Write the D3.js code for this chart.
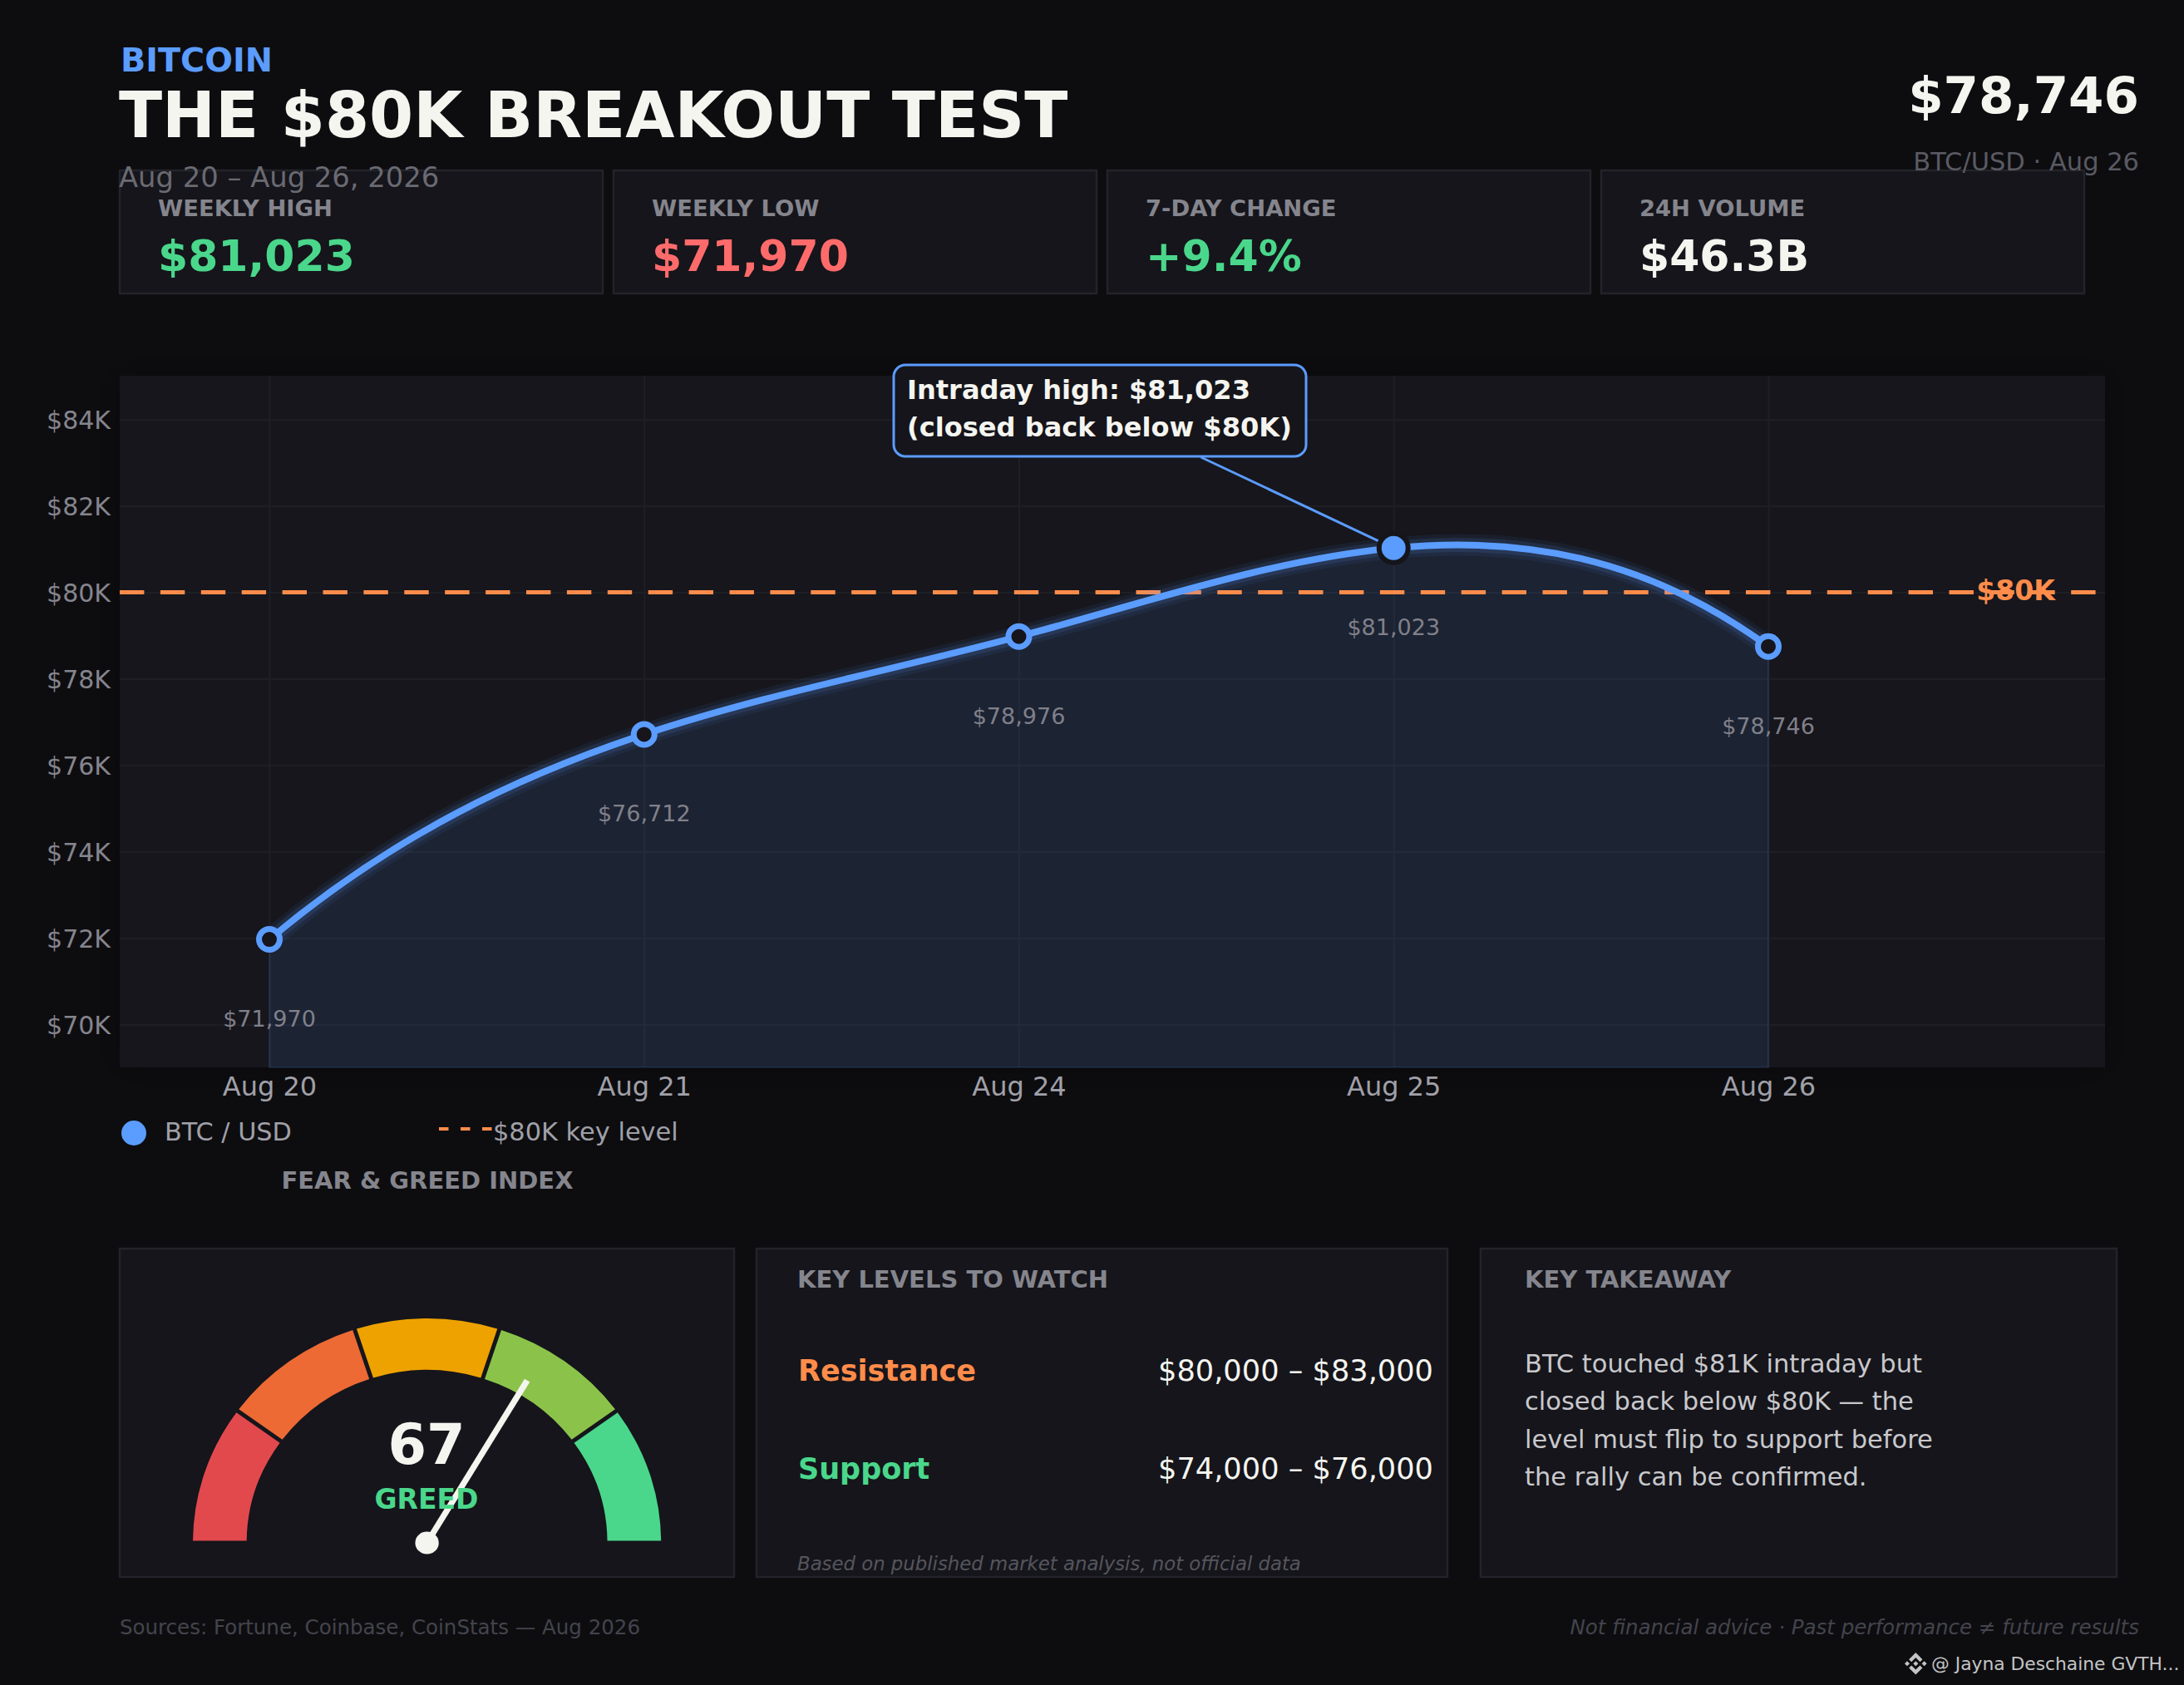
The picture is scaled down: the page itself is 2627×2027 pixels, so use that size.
<!DOCTYPE html>
<html>
<head>
<meta charset="utf-8">
<script src="https://cdn.jsdelivr.net/npm/d3@7/dist/d3.min.js"></script>
<style>
html,body{margin:0;padding:0;background:#0d0d10;}
svg{display:block;}
text{font-family:"DejaVu Sans",sans-serif;}
</style>
</head>
<body>
<script>
// ---- data ----
const days = ["Aug 20","Aug 21","Aug 24","Aug 25","Aug 26"];
const closes = [71970,76712,78976,81023,78746];
const yTicks = [70000,72000,74000,76000,78000,80000,82000,84000];
const keyLevel = 80000;
const peakIndex = 3;
const statLabels = ["WEEKLY HIGH","WEEKLY LOW","7-DAY CHANGE","24H VOLUME"];
const statValues = ["$81,023","$71,970","+9.4%","$46.3B"];
const statColors = ["#4ad78b","#ff6b6b","#4ad78b","#f5f5f0"];
const gaugeSegments = [1,1,1,1,1];
const gaugeColors = ["#e2494d","#ed6a35","#eea200","#8bc34a","#4ad78b"];
const gaugeValue = 67;
const gaugeMax = 100;
const levelNames = ["Resistance","Support"];
const levelRanges = ["$80,000 – $83,000","$74,000 – $76,000"];
const levelColors = ["#ff8c4a","#4ad78b"];
const takeaway = ["BTC touched $81K intraday but","closed back below $80K — the","level must flip to support before","the rally can be confirmed."];
const calloutLines = ["Intraday high: $81,023","(closed back below $80K)"];

// ---- palette ----
const BLUE="#5b9cff", ORANGE="#ff8c4a", PANEL="#15151b", EDGE="#23232a", INK="#f5f5f0", GREY="#85858d";

// d3 curve: cubic spline with not-a-knot ends on evenly spaced x
function NotAKnot(context){this._context=context;}
NotAKnot.prototype={
  areaStart(){this._line=0;},
  areaEnd(){this._line=NaN;},
  lineStart(){this._x=[];this._y=[];},
  point(x,y){this._x.push(+x);this._y.push(+y);},
  lineEnd(){
    const X=this._x,Y=this._y,n=X.length,c=this._context;
    if(this._line) c.lineTo(X[0],Y[0]); else c.moveTo(X[0],Y[0]);
    const h=(X[n-1]-X[0])/(n-1);
    const d=d3.range(n-1).map(i=>(Y[i+1]-Y[i])/h);
    const A=d3.range(n).map(()=>new Array(n+1).fill(0));
    A[0][0]=1;A[0][2]=-1;A[0][n]=2*(d[0]-d[1]);
    for(let i=1;i<n-1;i++){A[i][i-1]=1;A[i][i]=4;A[i][i+1]=1;A[i][n]=3*(d[i-1]+d[i]);}
    A[n-1][n-3]=1;A[n-1][n-1]=-1;A[n-1][n]=2*(d[n-3]-d[n-2]);
    for(let k=0;k<n;k++){
      let p=k;for(let r=k+1;r<n;r++)if(Math.abs(A[r][k])>Math.abs(A[p][k]))p=r;
      [A[k],A[p]]=[A[p],A[k]];
      for(let r=0;r<n;r++){if(r===k)continue;const f=A[r][k]/A[k][k];for(let j=k;j<=n;j++)A[r][j]-=f*A[k][j];}
    }
    const m=d3.range(n).map(i=>A[i][n]/A[i][i]);
    for(let i=0;i<n-1;i++){
      c.bezierCurveTo(X[i]+h/3,Y[i]+m[i]*h/3,X[i+1]-h/3,Y[i+1]-m[i+1]*h/3,X[i+1],Y[i+1]);
    }
    if(this._line) c.closePath();
    this._line=1-this._line;
  }
};
const curveSpline=ctx=>new NotAKnot(ctx);

const W=2627,H=2027;
const svg=d3.select("body").append("svg").attr("width",W).attr("height",H).attr("viewBox",`0 0 ${W} ${H}`);
svg.append("rect").attr("width",W).attr("height",H).attr("fill","#0d0d10");

const defs=svg.append("defs");
const sh=defs.append("filter").attr("id","sh").attr("x","-10%").attr("y","-10%").attr("width","120%").attr("height","120%");
sh.append("feDropShadow").attr("dx",0).attr("dy",0).attr("stdDeviation",22).attr("flood-color","#000").attr("flood-opacity",0.3);

function txt(g,s,x,y,size,fill,o={}){
  return g.append("text").attr("x",x).attr("y",y).attr("font-size",size).attr("fill",fill)
    .attr("font-weight",o.w||400).attr("font-style",o.i||"normal").attr("text-anchor",o.a||"start")
    .attr("font-family",o.f||null).text(s);
}
function panel(x,y,w,h){
  svg.append("rect").attr("x",x).attr("y",y).attr("width",w).attr("height",h).attr("fill",PANEL).attr("stroke",EDGE).attr("stroke-width",2.5);
}

// ---- stat cards ----
const cardX=d3.scaleLinear().domain([0,1]).range([144,738]);
statLabels.forEach((l,i)=>{
  const x=cardX(i);
  panel(x,205,581,148);
  txt(svg,l,x+46,260,27.4,GREY,{w:700});
  txt(svg,statValues[i],x+46,326,52,statColors[i],{w:700});
});

// ---- header ----
txt(svg,"BITCOIN",145,86,39.7,BLUE,{w:700});
txt(svg,"THE $80K BREAKOUT TEST",143,165,76.4,INK,{w:700});
txt(svg,"Aug 20 – Aug 26, 2026",143,225,33.8,"#6a6a72");
txt(svg,"$78,746",2573,136,61,INK,{w:700,a:"end"});
txt(svg,"BTC/USD · Aug 26",2573,205,30.5,"#5a5a62",{a:"end"});

// ---- chart ----
const plot={l:144,r:2532,t:452,b:1284};
const x=d3.scaleLinear().domain([0,days.length-1]).range([324,2127]);
const y=d3.scaleLinear().domain([69000,85000]).range([plot.b+0.5,plot.t+0.5]);
svg.append("rect").attr("x",plot.l).attr("y",plot.t).attr("width",plot.r-plot.l).attr("height",plot.b-plot.t)
  .attr("fill",PANEL).attr("filter","url(#sh)");

const kFmt=d=>"$"+(d/1000)+"K";
const yAxis=svg.append("g").attr("transform",`translate(${plot.l},0)`)
  .call(d3.axisLeft(y).tickValues(yTicks).tickFormat(kFmt).tickSize(-(plot.r-plot.l)).tickPadding(11));
const xIdx=days.map((d,i)=>i);
const xAxis=svg.append("g").attr("transform",`translate(0,${plot.b})`)
  .call(d3.axisBottom(x).tickValues(xIdx).tickFormat(i=>days[i]).tickSize(-(plot.b-plot.t)).tickPadding(12));
[yAxis,xAxis].forEach(a=>{
  a.select(".domain").remove();
  a.selectAll("line").attr("stroke","#1e1e25").attr("stroke-width",2);
  a.selectAll("text").attr("font-family","DejaVu Sans").attr("font-size",30);
});
yAxis.selectAll("text").attr("fill",GREY).attr("transform","translate(0,1)");
xAxis.selectAll("text").attr("fill","#a0a0a8").attr("font-size",32).attr("dy",0).attr("y",null).attr("transform","translate(0,34)");

const pts=closes.map((v,i)=>({i,v}));
const area=d3.area().x(d=>x(d.i)).y0(plot.b).y1(d=>y(d.v)).curve(curveSpline);
const line=d3.line().x(d=>x(d.i)).y(d=>y(d.v)).curve(curveSpline);
svg.append("path").attr("d",area(pts)).attr("fill",BLUE).attr("fill-opacity",0.1).attr("stroke",BLUE).attr("stroke-opacity",0.12).attr("stroke-width",2);

// 80K key level
svg.append("line").attr("x1",plot.l).attr("x2",plot.r).attr("y1",y(keyLevel)).attr("y2",y(keyLevel))
  .attr("stroke",ORANGE).attr("stroke-width",5).attr("stroke-dasharray","29.4 19.5");
txt(svg,"$80K",2424.5,722,33,ORANGE,{w:700,a:"middle"});

// line
svg.append("path").attr("d",line(pts)).attr("fill","none").attr("stroke",BLUE).attr("stroke-opacity",0.07).attr("stroke-width",26);
svg.append("path").attr("d",line(pts)).attr("fill","none").attr("stroke",BLUE).attr("stroke-opacity",0.12).attr("stroke-width",17);
svg.append("path").attr("d",line(pts)).attr("fill","none").attr("stroke",BLUE).attr("stroke-width",8);

// callout leader & box
svg.append("line").attr("x1",1444.5).attr("y1",550).attr("x2",x(peakIndex)).attr("y2",y(closes[peakIndex]))
  .attr("stroke",BLUE).attr("stroke-width",3);
svg.append("rect").attr("x",1075).attr("y",439).attr("width",496).attr("height",110).attr("rx",14)
  .attr("fill",PANEL).attr("stroke",BLUE).attr("stroke-width",3);
calloutLines.forEach((l,i)=>txt(svg,l,1091,480+i*45,32.1,INK,{w:700}));

// markers
svg.selectAll("circle.pt").data(pts).join("circle").attr("class","pt")
  .attr("cx",d=>x(d.i)).attr("cy",d=>y(d.v))
  .attr("r",d=>d.i===peakIndex?17.5:12.5)
  .attr("fill",d=>d.i===peakIndex?BLUE:PANEL)
  .attr("stroke",d=>d.i===peakIndex?PANEL:BLUE)
  .attr("stroke-width",d=>d.i===peakIndex?6:7);
pts.forEach(d=>txt(svg,"$"+d3.format(",")(d.v),x(d.i),y(d.v)+105,27,"#80808a",{a:"middle"}));

// legend
svg.append("circle").attr("cx",161).attr("cy",1363).attr("r",15).attr("fill",BLUE);
txt(svg,"BTC / USD",198,1372,30.3,"#a0a0a8");
svg.append("line").attr("x1",528).attr("x2",592).attr("y1",1358).attr("y2",1358).attr("stroke",ORANGE).attr("stroke-width",4).attr("stroke-dasharray","11.5 14.5");
txt(svg,"$80K key level",593,1372,30.4,"#a0a0a8");
txt(svg,"FEAR & GREED INDEX",514,1430,29,GREY,{w:700,a:"middle"});

// ---- bottom panels ----
panel(144,1502,739,395);
panel(910,1502,831,395);
panel(1781,1502,765,395);

// gauge
const G=svg.append("g").attr("transform","translate(513.6,1856) scale(1.043,1)");
const pie=d3.pie().sort(null).startAngle(-Math.PI/2).endAngle(Math.PI/2);
const arc=d3.arc().innerRadius(208).outerRadius(270).padAngle(0.02).padRadius(240);
G.selectAll("path").data(pie(gaugeSegments)).join("path").attr("d",arc).attr("fill",(d,i)=>gaugeColors[i]);
txt(svg,String(gaugeValue),513,1761,67,INK,{w:700,a:"middle"});
txt(svg,"GREED",513,1815,33,"#4ad78b",{w:700,a:"middle"});
const needle=d3.scaleLinear().domain([0,gaugeMax]).range([-Math.PI/2,Math.PI/2]);
const na=needle(gaugeValue);
G.append("line").attr("x1",0).attr("y1",0).attr("x2",227*Math.sin(na)).attr("y2",-227*Math.cos(na))
  .attr("stroke",INK).attr("stroke-width",7);
G.append("circle").attr("r",13.6).attr("fill",INK);

// key levels
txt(svg,"KEY LEVELS TO WATCH",959,1549,29,GREY,{w:700});
levelNames.forEach((n,i)=>{
  const by=[1661,1779][i];
  txt(svg,n,960,by,35,levelColors[i],{w:700});
  txt(svg,levelRanges[i],1724,by,35.2,INK,{a:"end"});
});
txt(svg,"Based on published market analysis, not official data",959,1889,22.8,"#55555d",{i:"italic"});

// takeaway
txt(svg,"KEY TAKEAWAY",1834,1549,29,GREY,{w:700});
takeaway.forEach((l,i)=>txt(svg,l,1834,1651+i*45.3,30.5,"#c8c8cc"));

// footer
txt(svg,"Sources: Fortune, Coinbase, CoinStats — Aug 2026",144,1966,24.5,"#44444c");
txt(svg,"Not financial advice · Past performance ≠ future results",2573,1966,24.5,"#44444c",{i:"italic",a:"end"});

// watermark
svg.append("path").attr("transform","translate(2291,1988) scale(0.21)").attr("fill","#c4c4c4")
  .attr("d","M38.73 53.2l24.59-24.58 24.6 24.6 14.3-14.31L63.32 0 24.42 38.9l14.31 14.3z M0 63.31l14.3-14.31 14.31 14.31-14.31 14.3z M38.73 73.41l24.59 24.59 24.6-24.6 14.31 14.29-38.9 38.91-38.91-38.88-.02-.02z M98 63.31l14.3-14.31 14.31 14.3-14.31 14.32z M77.83 63.3L63.32 48.78 52.59 59.51l-1.24 1.23-2.54 2.54 14.51 14.5 14.51-14.47z");
txt(svg,"@ Jayna Deschaine GVTH...",2323,2009,21.8,"#c4c4c4",{f:"Noto Sans"});
</script>
</body>
</html>
